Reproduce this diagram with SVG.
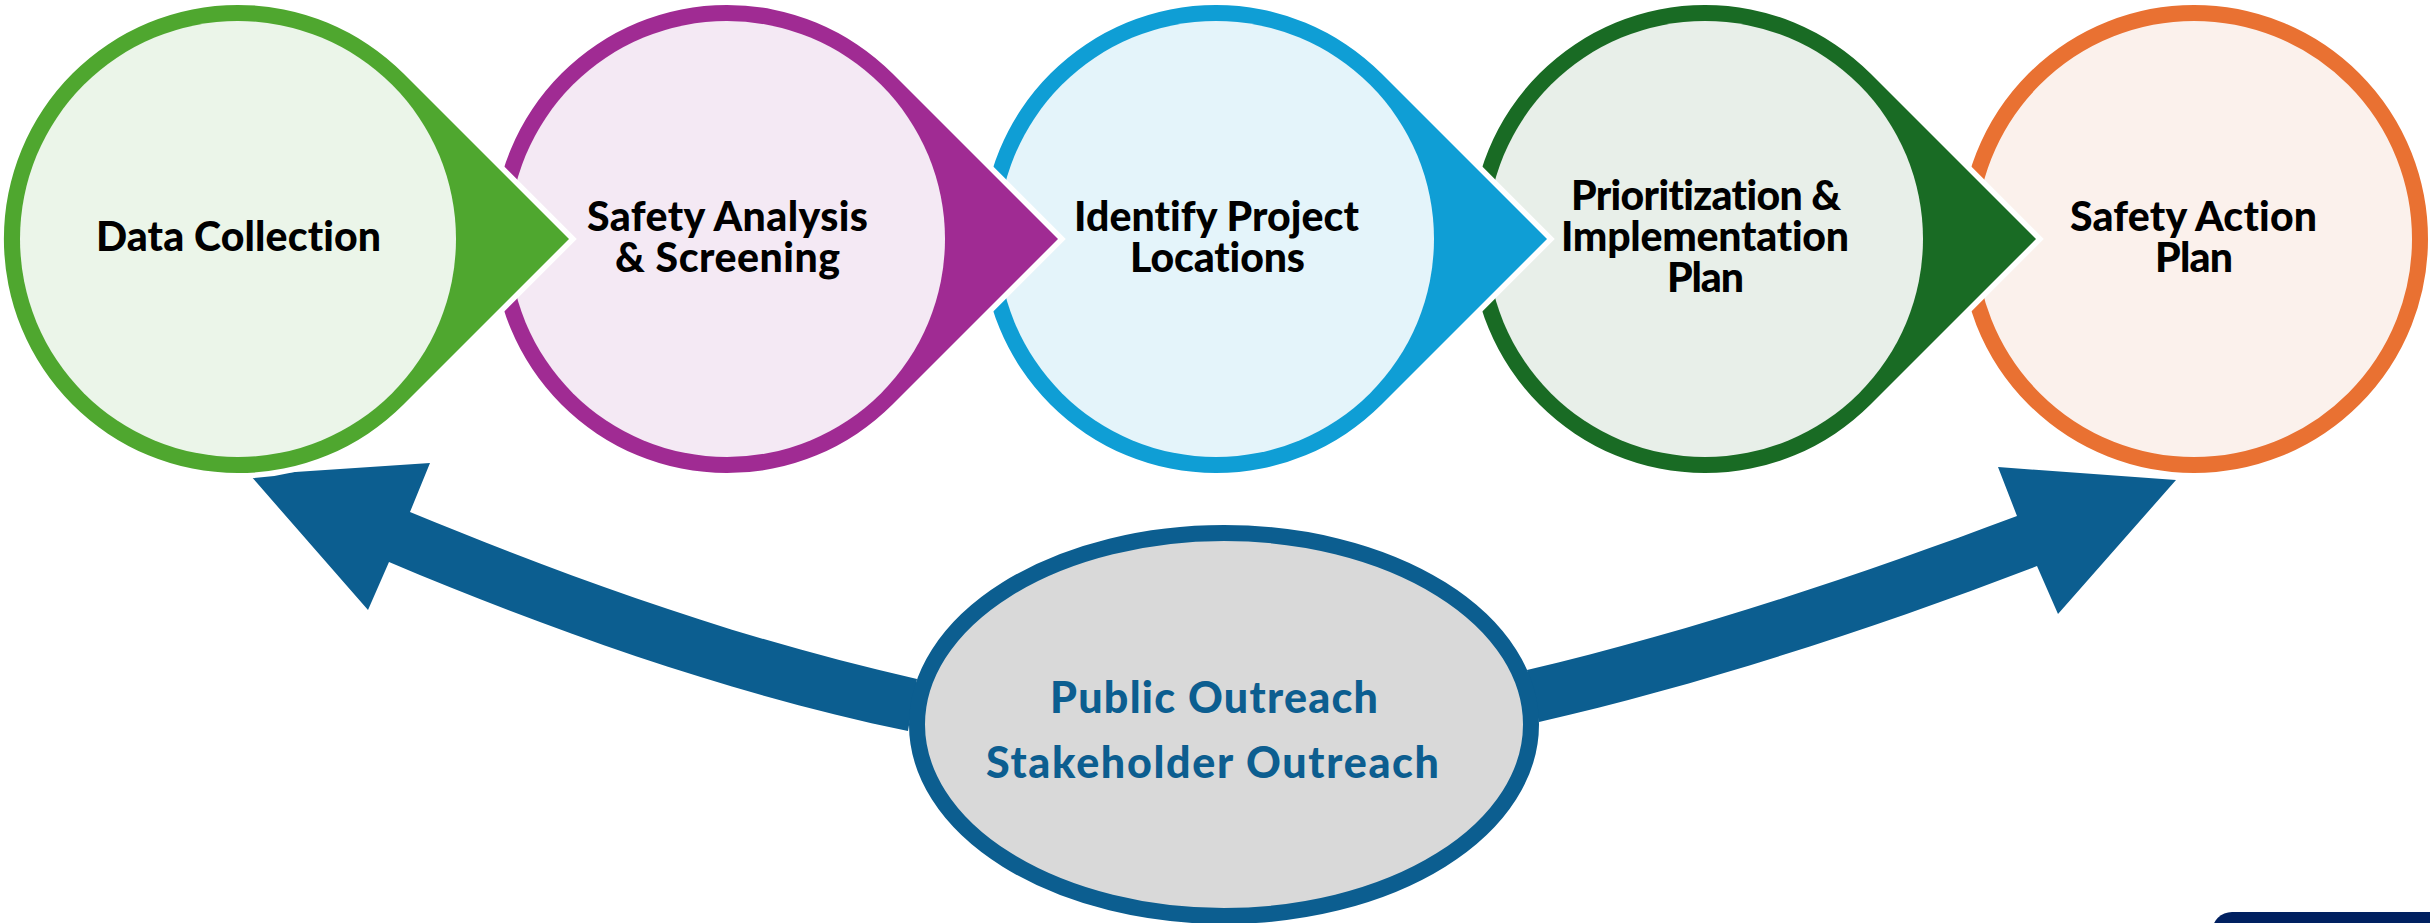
<svg xmlns="http://www.w3.org/2000/svg" width="2430" height="923" viewBox="0 0 2430 923">
<style>
.t{font-family:"Lato","Liberation Sans",sans-serif;font-weight:900;font-size:41px;text-anchor:middle;fill:#000;font-variant-ligatures:none}
.o{font-family:"Lato","Liberation Sans",sans-serif;font-weight:900;font-size:43px;text-anchor:middle;fill:#0c5e90;font-variant-ligatures:none}
.tear{stroke:#fff;stroke-width:11;paint-order:stroke;stroke-linejoin:miter;stroke-miterlimit:10}
</style>
<defs>
<path id="drop" d="M-165.5-165.5A234 234 0 1 0 165.5 165.5L331 0L165.5-165.5A234 234 0 0 0-165.5-165.5Z"/>
</defs>
<rect width="2430" height="923" fill="#fff"/>
<rect x="2212" y="912" width="240" height="40" rx="20" fill="#002060"/>
<g id="connectors" fill="#0c5e90">
<path d="M917 679C747 641 580 582 410 512L430 463L250 475L368 610L389 562C562 635 735 695 908 731Z"/>
<path d="M1527 670C1690 632 1860 575 2017 516L1998 467L2176 480L2058 614L2037 566C1870 630 1700 685 1539 722Z"/>
</g>
<g id="outreach">
<ellipse cx="1224" cy="724.5" rx="307" ry="191.5" fill="#d9d9d9" stroke="#0c5e90" stroke-width="16"/>
<text class="o" x="1214" y="713" textLength="328">Public Outreach</text>
<text class="o" x="1212.5" y="778" textLength="453">Stakeholder Outreach</text>
</g>
<g id="safety-action-plan">
<circle cx="2194" cy="239" r="226" fill="#fbf1ec" stroke="#e97132" stroke-width="16"/>
<text class="t" x="2193.5" y="231" textLength="247">Safety Action</text>
<text class="t" x="2194" y="272" textLength="78">Plan</text>
</g>
<g id="prioritization">
<use href="#drop" x="1705" y="239" fill="#196b24" class="tear"/>
<circle cx="1705" cy="239" r="218" fill="#e8efe9"/>
<text class="t" x="1706" y="210" textLength="270">Prioritization &amp;</text>
<text class="t" x="1705" y="251" textLength="288">Implementation</text>
<text class="t" x="1705.5" y="292" textLength="77">Plan</text>
</g>
<g id="identify">
<use href="#drop" x="1216" y="239" fill="#0f9ed5" class="tear"/>
<circle cx="1216" cy="239" r="218" fill="#e4f4fa"/>
<text class="t" x="1216.5" y="231" textLength="285">Identify Project</text>
<text class="t" x="1217.5" y="272" textLength="175">Locations</text>
</g>
<g id="safety-analysis">
<use href="#drop" x="727" y="239" fill="#a02b93" class="tear"/>
<circle cx="727" cy="239" r="218" fill="#f4e9f4"/>
<text class="t" x="727.5" y="231" textLength="281">Safety Analysis</text>
<text class="t" x="727.5" y="272" textLength="225">&amp; Screening</text>
</g>
<g id="data-collection">
<use href="#drop" x="238" y="239" fill="#4fa72f" class="tear"/>
<circle cx="238" cy="239" r="218" fill="#ebf5e9"/>
<text class="t" x="238.5" y="251" textLength="285">Data Collection</text>
</g>
</svg>
